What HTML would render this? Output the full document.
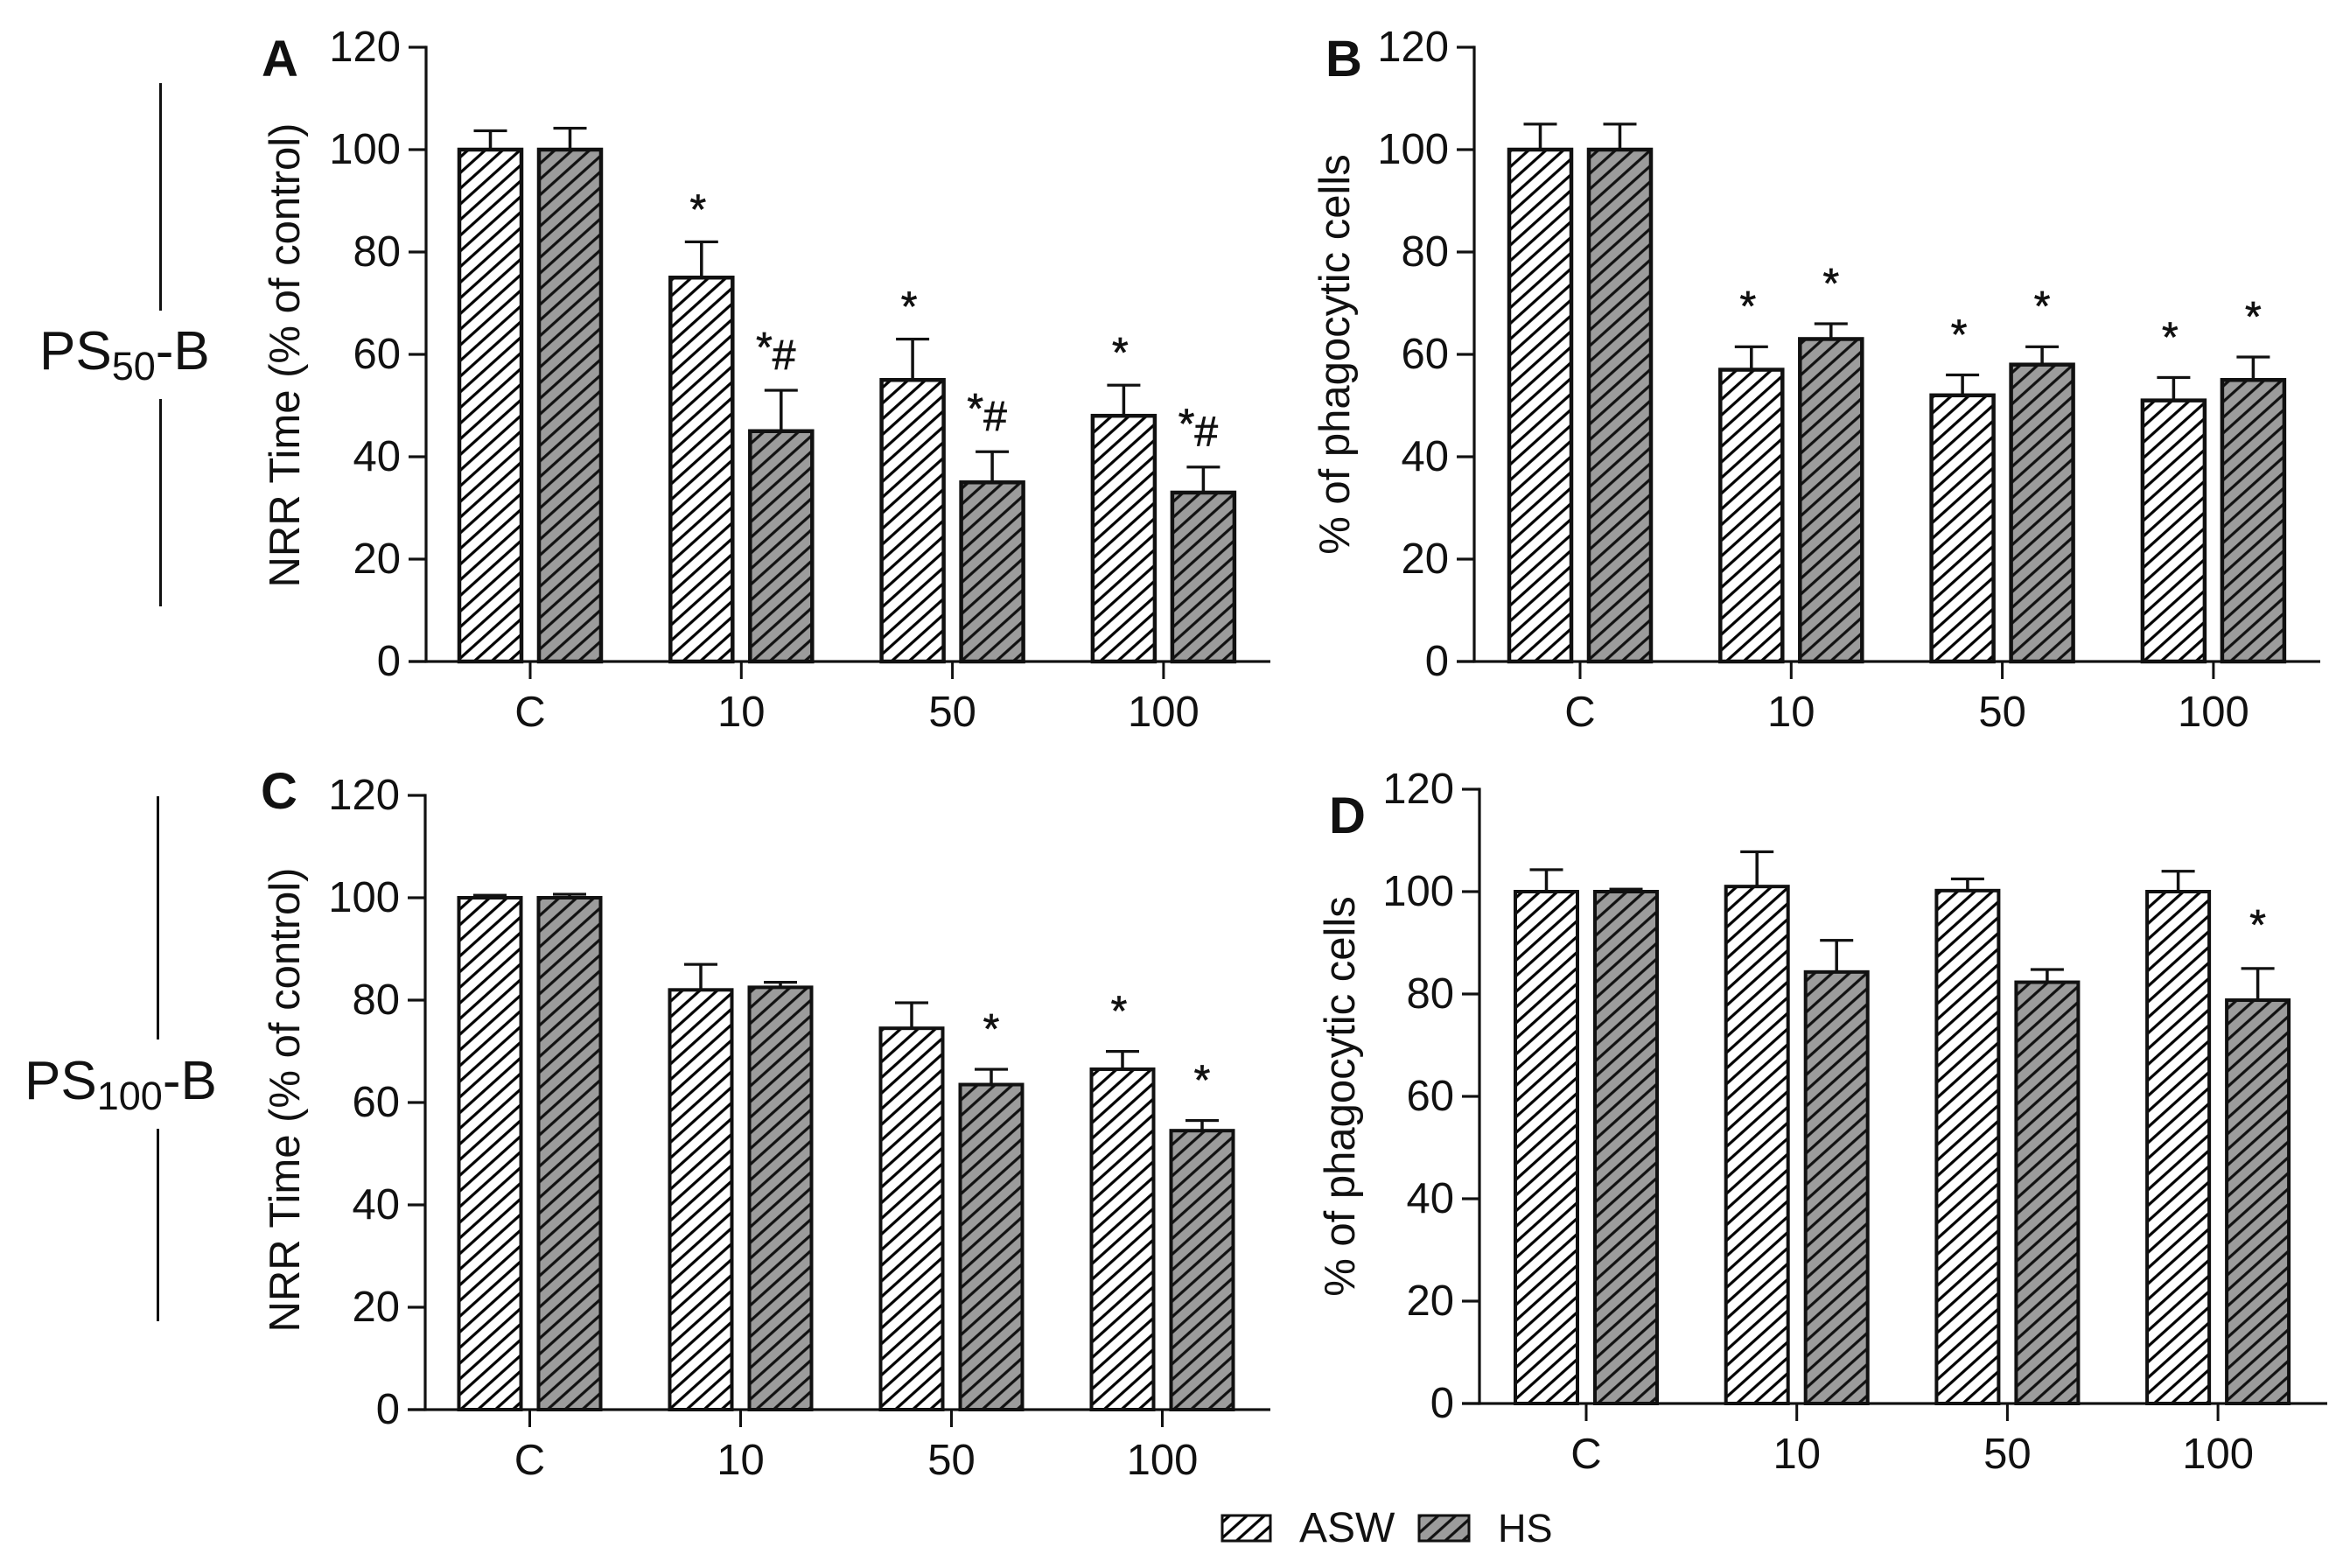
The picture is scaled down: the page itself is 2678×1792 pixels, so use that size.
<!DOCTYPE html>
<html lang="en">
<head>
<meta charset="utf-8">
<title>NRR time and phagocytic cells</title>
<style>
html,body{margin:0;padding:0;background:#fff;}
svg{display:block;}
text{font-family:"Liberation Sans",Arial,sans-serif;fill:#111;}
</style>
</head>
<body>
<svg id="figure" xmlns="http://www.w3.org/2000/svg" width="2678" height="1792" viewBox="0 0 2678 1792">
  <defs>
    <pattern id="hatch-asw" patternUnits="userSpaceOnUse" width="13.3" height="13.3" patternTransform="rotate(-42)">
      <rect width="13.3" height="13.3" fill="#fff"/>
      <rect y="5" width="13.3" height="3.2" fill="#000"/>
    </pattern>
    <pattern id="hatch-hs" patternUnits="userSpaceOnUse" width="13.3" height="13.3" patternTransform="rotate(-42)">
      <rect width="13.3" height="13.3" fill="#9c9c9c"/>
      <rect y="5" width="13.3" height="3.2" fill="#111"/>
    </pattern>
  </defs>
  <rect width="2678" height="1792" fill="#fff"/>

  <g>
    <rect x="182" y="95" width="3" height="260" fill="#111"/>
    <rect x="182" y="456" width="3" height="237" fill="#111"/>
    <text x="45" y="422" font-size="62">PS<tspan font-size="45" dy="12">50</tspan><tspan dy="-12">-B</tspan></text>
  </g>
  <g>
    <rect x="179" y="910" width="3" height="278" fill="#111"/>
    <rect x="179" y="1290" width="3" height="220" fill="#111"/>
    <text x="28" y="1256" font-size="62">PS<tspan font-size="45" dy="12">100</tspan><tspan dy="-12">-B</tspan></text>
  </g>

  <g id="panels"></g>

  <g>
    <g>
      <rect x="1397" y="1732" width="55" height="29" fill="url(#hatch-asw)" stroke="#111" stroke-width="3"/>
      <text x="1485" y="1762" font-size="48">ASW</text>
    </g>
    <g>
      <rect x="1622" y="1732" width="57" height="29" fill="url(#hatch-hs)" stroke="#111" stroke-width="3"/>
      <text x="1712" y="1762" font-size="45">HS</text>
    </g>
  </g>
</svg>
<script>
// Shared axis data
const categories = ["C", "10", "50", "100"];
const yTicks = [0, 20, 40, 60, 80, 100, 120];

// Panel A
const aAsw = [100, 75, 55, 48];
const aAswTop = [103.7, 82, 63, 54];
const aHs = [100, 45, 35, 33];
const aHsTop = [104.2, 53, 41, 38];
const aAswMarks = ["", "*", "*", "*"];
const aHsMarks = ["", "*#", "*#", "*#"];

// Panel B
const bAsw = [100, 57, 52, 51];
const bAswTop = [105, 61.5, 56, 55.5];
const bHs = [100, 63, 58, 55];
const bHsTop = [105, 66, 61.5, 59.5];
const bAswMarks = ["", "*", "*", "*"];
const bHsMarks = ["", "*", "*", "*"];

// Panel C
const cAsw = [100, 82, 74.5, 66.5];
const cAswTop = [100.5, 87, 79.5, 70];
const cHs = [100, 82.5, 63.5, 54.5];
const cHsTop = [100.7, 83.5, 66.5, 56.5];
const cAswMarks = ["", "", "", "*"];
const cHsMarks = ["", "", "*", "*"];

// Panel D
const dAsw = [100, 101, 100.2, 100];
const dAswTop = [104.3, 107.8, 102.5, 104];
const dHs = [100, 84.3, 82.3, 78.8];
const dHsTop = [100.5, 90.5, 84.8, 85];
const dAswMarks = ["", "", "", ""];
const dHsMarks = ["", "", "", "*"];

const NS = "http://www.w3.org/2000/svg";
const root = document.getElementById("panels");

function make(tag, attrs, parent) {
  const el = document.createElementNS(NS, tag);
  for (const k in attrs) el.setAttribute(k, attrs[k]);
  parent.appendChild(el);
  return el;
}

const panels = [
  {id: "a", letter: "A", title: "NRR Time (% of control)", titleX: 342, titleY: 406, letterX: 299, letterY: 87,
   axisX: 487, y0: 756, y120: 54, xEnd: 1452, first: 606, step: 241.3, stroke: 4.5, gap: 21,
   asw: aAsw, aswTop: aAswTop, hs: aHs, hsTop: aHsTop, aswMarks: aAswMarks, hsMarks: aHsMarks},
  {id: "b", letter: "B", title: "% of phagocytic cells", titleX: 1542, titleY: 405, letterX: 1515, letterY: 87,
   axisX: 1685, y0: 756, y120: 54, xEnd: 2652, first: 1806, step: 241.3, stroke: 4.5, gap: 30,
   asw: bAsw, aswTop: bAswTop, hs: bHs, hsTop: bHsTop, aswMarks: bAswMarks, hsMarks: bHsMarks},
  {id: "c", letter: "C", title: "NRR Time (% of control)", titleX: 342, titleY: 1257, letterX: 298, letterY: 924,
   axisX: 486, y0: 1611, y120: 909, xEnd: 1452, first: 605.5, step: 241, stroke: 4, gap: 30,
   asw: cAsw, aswTop: cAswTop, hs: cHs, hsTop: cHsTop, aswMarks: cAswMarks, hsMarks: cHsMarks},
  {id: "d", letter: "D", title: "% of phagocytic cells", titleX: 1548, titleY: 1253, letterX: 1519, letterY: 952,
   axisX: 1691, y0: 1604, y120: 902, xEnd: 2660, first: 1813, step: 240.7, stroke: 4, gap: 34,
   asw: dAsw, aswTop: dAswTop, hs: dHs, hsTop: dHsTop, aswMarks: dAswMarks, hsMarks: dHsMarks}
];

const BAR_W = 71;
const BAR_OFFSET = 45.5;
const LINE = 3.2;

panels.forEach(function (p) {
  const yScale = function (v) { return p.y0 - (v / 120) * (p.y0 - p.y120); };
  const xScale = function (i) { return p.first + i * p.step; };

  const g = make("g", {}, root);
  
  

  const letter = make("text", {x: p.letterX, y: p.letterY, "font-size": 58, "font-weight": "bold"}, g);
  letter.textContent = p.letter;
  
  

  const title = make("text", {
    x: p.titleX, y: p.titleY, "font-size": 49, "text-anchor": "middle",
    transform: "rotate(-90 " + p.titleX + " " + p.titleY + ")"
  }, g);
  title.textContent = p.title;
  
  

  // bars
  [["asw", -BAR_OFFSET, p.asw, p.aswTop, p.aswMarks, "url(#hatch-asw)"],
   ["hs", BAR_OFFSET, p.hs, p.hsTop, p.hsMarks, "url(#hatch-hs)"]].forEach(function (s) {
    const name = s[0], off = s[1], vals = s[2], tops = s[3], marks = s[4], fill = s[5];
    vals.forEach(function (v, i) {
      const cx = xScale(i) + off;
      const yv = yScale(v);
      const yt = yScale(tops[i]);

      const stem = make("rect", {x: cx - 1.75, y: yt, width: 3.5, height: yv - yt, fill: "#111"}, g);
      
      

      const cap = make("rect", {x: cx - 19, y: yt - 1.5, width: 38, height: 3.2, fill: "#111"}, g);
      
      

      const bar = make("rect", {
        x: cx - BAR_W / 2, y: yv, width: BAR_W, height: p.y0 - yv,
        fill: fill, stroke: "#111", "stroke-width": p.stroke
      }, g);
      
      

      if (marks[i]) {
        const hasHash = marks[i].indexOf("#") >= 0;
        const m = make("text", {
          x: cx + (hasHash ? -6 : (name === "asw" ? -4 : 0)),
          y: yt - (hasHash ? 24 : p.gap),
          "font-size": 48, "text-anchor": "middle", stroke: "#111", "stroke-width": 0.7
        }, g);
        
        
        if (hasHash) {
          const star = make("tspan", {dy: -9}, m);
          star.textContent = marks[i].charAt(0);
          const hash = make("tspan", {dy: 9}, m);
          hash.textContent = marks[i].slice(1);
        } else {
          m.textContent = marks[i];
        }
      }
    });
  });

  // y axis
  const yAxis = make("rect", {x: p.axisX - LINE / 2, y: p.y120 - LINE / 2, width: LINE, height: p.y0 - p.y120 + LINE, fill: "#111"}, g);
  
  

  yTicks.forEach(function (t) {
    const tick = make("rect", {x: p.axisX - 20, y: yScale(t) - LINE / 2, width: 20, height: LINE, fill: "#111"}, g);
    
    
    const lab = make("text", {x: p.axisX - 29, y: yScale(t) + 16, "font-size": 49, "text-anchor": "end"}, g);
    lab.textContent = t;
    
    
  });

  // x axis
  const xAxis = make("rect", {x: p.axisX - 20, y: p.y0 - LINE / 2, width: p.xEnd - p.axisX + 20, height: LINE, fill: "#111"}, g);
  
  

  categories.forEach(function (c, i) {
    const tick = make("rect", {x: xScale(i) - 1.5, y: p.y0, width: 3, height: 20, fill: "#111"}, g);
    
    
    const lab = make("text", {x: xScale(i), y: p.y0 + 74, "font-size": 49, "text-anchor": "middle"}, g);
    lab.textContent = c;
    
    
  });
});
</script>
</body>
</html>
